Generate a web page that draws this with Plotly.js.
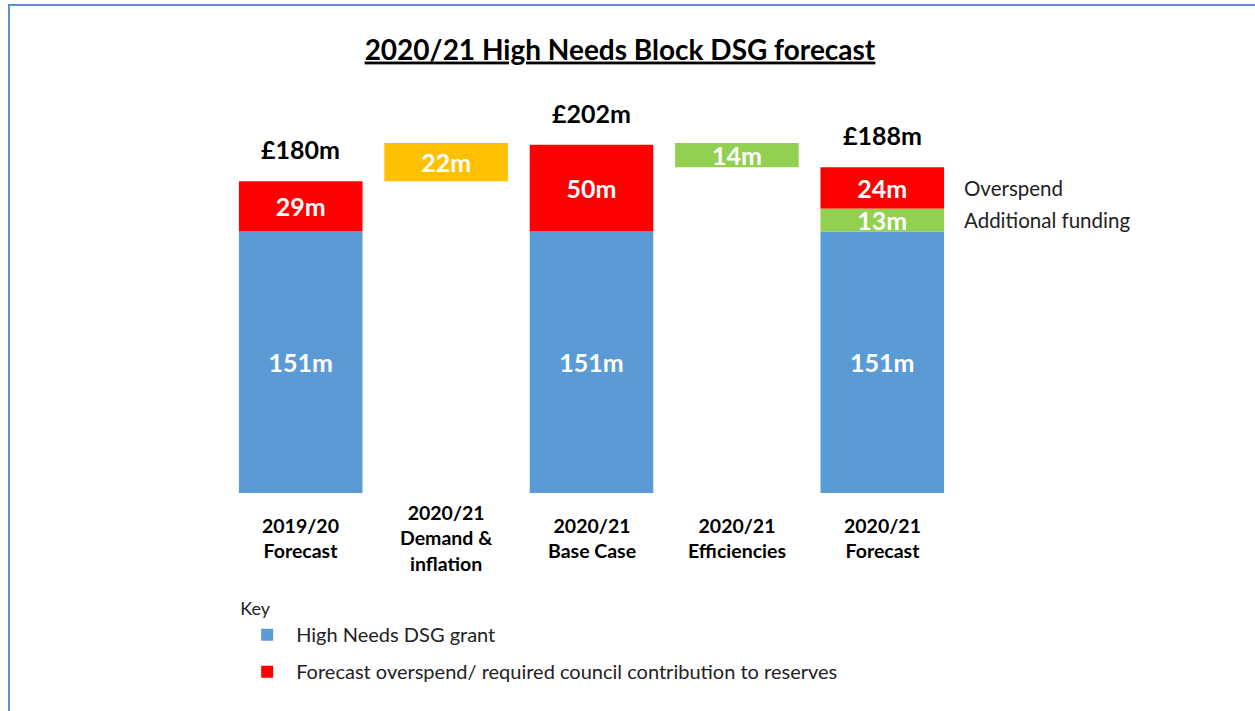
<!DOCTYPE html>
<html>
<head>
<meta charset="utf-8">
<script src="https://cdn.plot.ly/plotly-3.0.1.min.js"></script>
<style>
  html, body { margin: 0; padding: 0; background: #fff; }
  #wrap { position: relative; width: 1255px; height: 711px; overflow: hidden; }
  #chart { position: absolute; left: 0; top: 0; width: 1255px; height: 711px; }
  #frame { position: absolute; left: 8px; top: 4px; right: -4px; bottom: -4px;
           border-top: 2px solid #5b8fd0; border-left: 2px solid #5b8fd0; pointer-events: none; }
</style>
</head>
<body>
<div id="wrap"><div id="chart"></div><div id="frame"></div></div>
<script>
// ---- data ----
const categories = ["2019/20<br>Forecast", "2020/21<br>Demand &<br>inflation", "2020/21<br>Base Case", "2020/21<br>Efficiencies", "2020/21<br>Forecast"];
const grantValues      = [151, null, 151, null, 151];   // High Needs DSG grant (blue)
const overspendValues  = [29,  null, 50,  null, 24];    // Forecast overspend (red)
const additionalValues = [null, null, null, null, 13];  // Additional funding (green)
const demandValues     = [null, 22, null, null, null];  // Demand & inflation (yellow)
const efficiencyValues = [null, null, null, 14, null];  // Efficiencies (green)
const totalLabels      = ["£180m", null, "£202m", null, "£188m"];
const sideLabels       = ["Overspend", "Additional funding"];
const keyTitle = "Key";
const seriesNames = ["High Needs DSG grant", "Forecast overspend/ required council contribution to reserves", "Additional funding", "Demand & inflation", "Efficiencies"];

const BLUE = "#5b9bd5", RED = "#ff0000", YELLOW = "#ffc000", GREEN = "#92d050";
const FONT = "Lato, 'Open Sans', sans-serif";
const idx = categories.map((_, i) => i);
const v = a => a.map(x => x || 0);

// stacking bases derived from the data
const grant = v(grantValues), over = v(overspendValues), add = v(additionalValues);
const stackTop = idx.map(i => grant[i] + add[i] + over[i]);
const overBase = idx.map(i => grant[i] + add[i]);
const demandBase = idx.map(i => stackTop[i - 1] || 0);     // floats from previous total
const effBase = idx.map(i => stackTop[i + 1] || 0);        // floats from next total

function pick(arr, baseArr) {
  const xs = [], ys = [], bs = [], ts = [];
  arr.forEach((val, i) => {
    if (val !== null) { xs.push(i); ys.push(val); ts.push(val + "m"); bs.push(baseArr ? baseArr[i] : 0); }
  });
  return { xs, ys, bs, ts };
}

function barTrace(arr, baseArr, color, name, showlegend, group) {
  const p = pick(arr, baseArr);
  return {
    type: "bar", x: p.xs, y: p.ys, base: p.bs, text: p.ts, name: name,
    width: 0.85, showlegend: showlegend, legendgroup: group,
    marker: { color: color, line: { width: 0 } },
    textposition: "inside", insidetextanchor: "middle", constraintext: "none",
    textfont: { family: FONT, size: 25, color: "#ffffff", weight: "bold" },
    hoverinfo: "x+y+name"
  };
}

const traces = [
  barTrace(grantValues, null, BLUE, seriesNames[0], true, "g1"),
  barTrace(overspendValues, overBase, RED, seriesNames[1], true, "g2"),
  barTrace(additionalValues, grant, GREEN, seriesNames[2], false, "g3"),
  barTrace(demandValues, demandBase, YELLOW, seriesNames[3], false, "g4"),
  barTrace(efficiencyValues, effBase, GREEN, seriesNames[4], false, "g5")
];

const annotations = [];
// category labels
categories.forEach((c, i) => annotations.push({
  x: i, xref: "x", y: -0.112, yref: "paper", text: "<b>" + c + "</b>",
  showarrow: false, xanchor: "center", yanchor: "middle", align: "center",
  font: { family: FONT, size: 19.5, color: "#000" }
}));
// totals above bars
totalLabels.forEach((t, i) => { if (t) annotations.push({
  x: i, xref: "x", y: stackTop[i], yref: "y", text: "<b>" + t + "</b>",
  showarrow: false, xanchor: "center", yanchor: "bottom", yshift: 15,
  font: { family: FONT, size: 25, color: "#000" }
}); });
// side labels beside last bar
const last = categories.length - 1;
annotations.push({
  x: 1.009, xref: "paper", y: overBase[last] + over[last] / 2, yref: "y", text: sideLabels[0],
  showarrow: false, xanchor: "left", yanchor: "middle",
  font: { family: FONT, size: 20.5, color: "#222" }
});
annotations.push({
  x: 1.009, xref: "paper", y: grant[last] + add[last] / 2, yref: "y", text: sideLabels[1],
  showarrow: false, xanchor: "left", yanchor: "middle",
  font: { family: FONT, size: 20.5, color: "#222" }
});

const layout = {
  width: 1255, height: 711,
  paper_bgcolor: "rgba(0,0,0,0)", plot_bgcolor: "rgba(0,0,0,0)",
  margin: { l: 228, r: 300, t: 90, b: 218, pad: 0 },
  barmode: "overlay",
  title: {
    text: "<b><u>2020/21 High Needs Block DSG forecast</u></b>",
    x: 0.494, xref: "container", xanchor: "center",
    y: 0.93, yref: "container", yanchor: "middle",
    font: { family: FONT, size: 28, color: "#000" }
  },
  xaxis: { range: [-0.5, 4.5], showticklabels: false, showgrid: false, zeroline: false, showline: false, fixedrange: true },
  yaxis: { range: [0, 232.6], showticklabels: false, showgrid: false, zeroline: false, showline: false, fixedrange: true },
  showlegend: true,
  legend: {
    x: 0.014, xanchor: "left", y: -0.245, yanchor: "top",
    title: { text: keyTitle, font: { family: FONT, size: 18, color: "#222" } },
    font: { family: FONT, size: 20, color: "#222" },
    bgcolor: "rgba(0,0,0,0)", itemwidth: 48, tracegroupgap: 8,
    traceorder: "grouped"
  },
  annotations: annotations
};

Plotly.newPlot("chart", traces, layout, { displayModeBar: false, staticPlot: true });
</script>
</body>
</html>
